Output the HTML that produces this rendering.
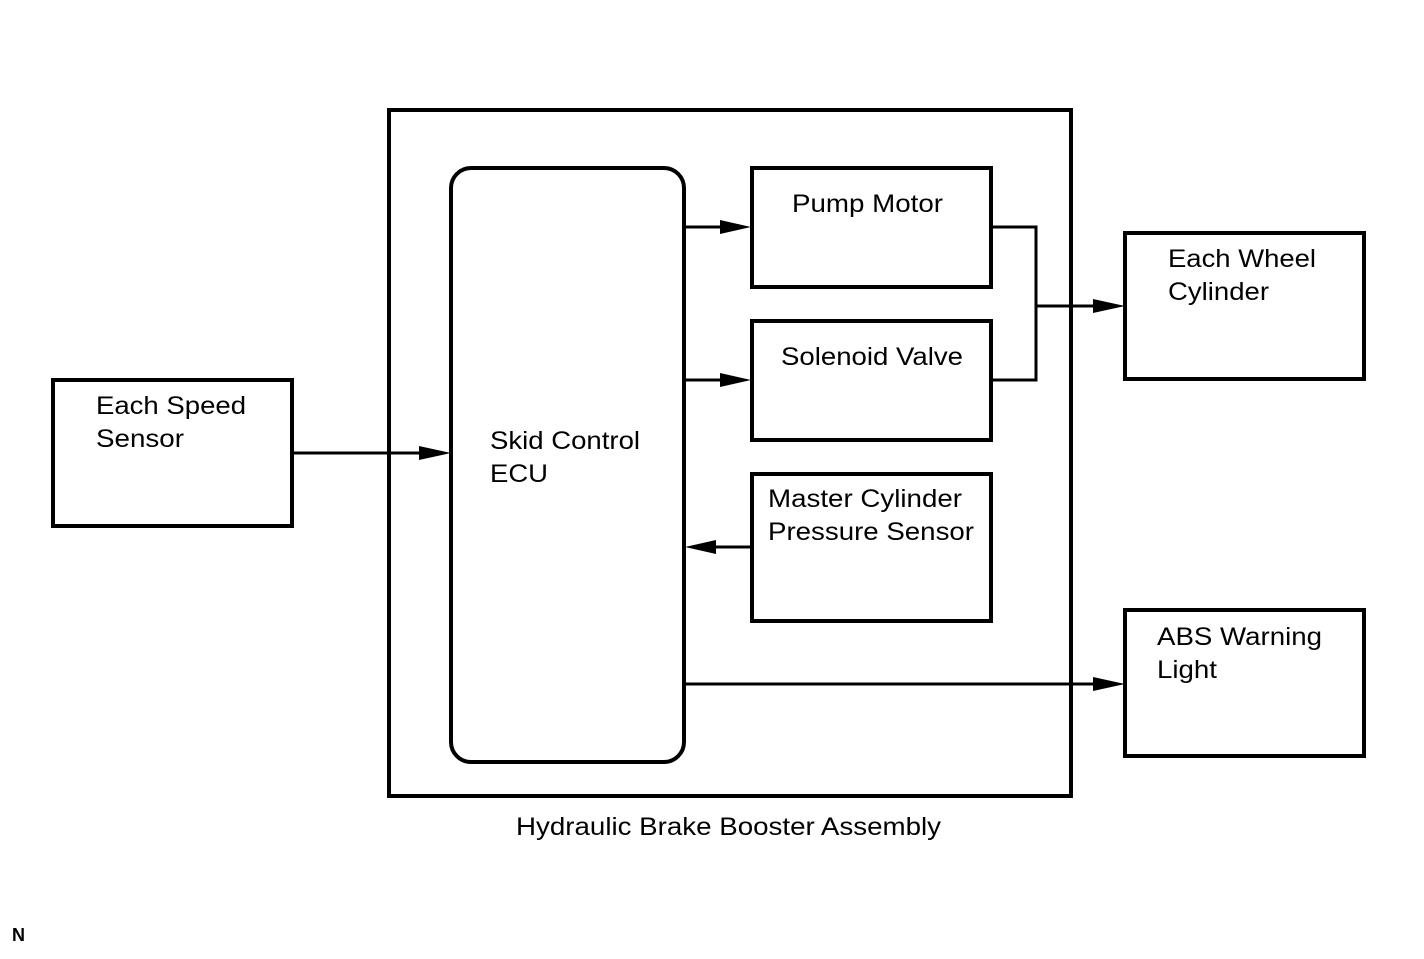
<!DOCTYPE html>
<html><head><style>body{margin:0;background:#fff}svg{display:block}text{font-family:"Liberation Sans",Arial,sans-serif;font-size:25px;fill:#000}</style></head>
<body>
<svg width="1424" height="959" viewBox="0 0 1424 959" xmlns="http://www.w3.org/2000/svg">
<g fill="none" stroke="#000" stroke-width="4">
<rect x="389" y="110" width="682" height="686"/>
<rect x="451" y="168" width="233" height="594" rx="20"/>
<rect x="752" y="168" width="239" height="119"/>
<rect x="752" y="321" width="239" height="119"/>
<rect x="752" y="474" width="239" height="147"/>
<rect x="53" y="380" width="239" height="146"/>
<rect x="1125" y="233" width="239" height="146"/>
<rect x="1125" y="610" width="239" height="146"/>
</g>
<g fill="none" stroke="#000" stroke-width="3">
<line x1="292" y1="453" x2="425" y2="453"/>
<line x1="684" y1="227" x2="722" y2="227"/>
<line x1="684" y1="380" x2="722" y2="380"/>
<line x1="752" y1="547" x2="714" y2="547"/>
<line x1="684" y1="684" x2="1095" y2="684"/>
<polyline points="991,227 1036,227 1036,380 991,380"/>
<line x1="1036" y1="306" x2="1095" y2="306"/>
</g>
<g fill="#000">
<polygon points="451,453 419,446 419,460"/>
<polygon points="751,227 720,220 720,234"/>
<polygon points="751,380 720,373 720,387"/>
<polygon points="685,547 716,540 716,554"/>
<polygon points="1125,684 1093,677 1093,691"/>
<polygon points="1125,306 1093,299 1093,313"/>
</g>
<g lengthAdjust="spacingAndGlyphs">
<text x="96" y="414" textLength="150" lengthAdjust="spacingAndGlyphs">Each Speed</text>
<text x="96" y="447" textLength="88" lengthAdjust="spacingAndGlyphs">Sensor</text>
<text x="490" y="449" textLength="150" lengthAdjust="spacingAndGlyphs">Skid Control</text>
<text x="490" y="482" textLength="58" lengthAdjust="spacingAndGlyphs">ECU</text>
<text x="792" y="212" textLength="151" lengthAdjust="spacingAndGlyphs">Pump Motor</text>
<text x="781" y="365" textLength="182" lengthAdjust="spacingAndGlyphs">Solenoid Valve</text>
<text x="768" y="507" textLength="194" lengthAdjust="spacingAndGlyphs">Master Cylinder</text>
<text x="768" y="540" textLength="206" lengthAdjust="spacingAndGlyphs">Pressure Sensor</text>
<text x="1168" y="267" textLength="148" lengthAdjust="spacingAndGlyphs">Each Wheel</text>
<text x="1168" y="300" textLength="101" lengthAdjust="spacingAndGlyphs">Cylinder</text>
<text x="1157" y="645" textLength="165" lengthAdjust="spacingAndGlyphs">ABS Warning</text>
<text x="1157" y="678" textLength="60" lengthAdjust="spacingAndGlyphs">Light</text>
<text x="516" y="835" textLength="425" lengthAdjust="spacingAndGlyphs">Hydraulic Brake Booster Assembly</text>
</g>
<text x="12" y="941" style="font-size:18px;font-weight:bold">N</text>
</svg>
</body></html>
